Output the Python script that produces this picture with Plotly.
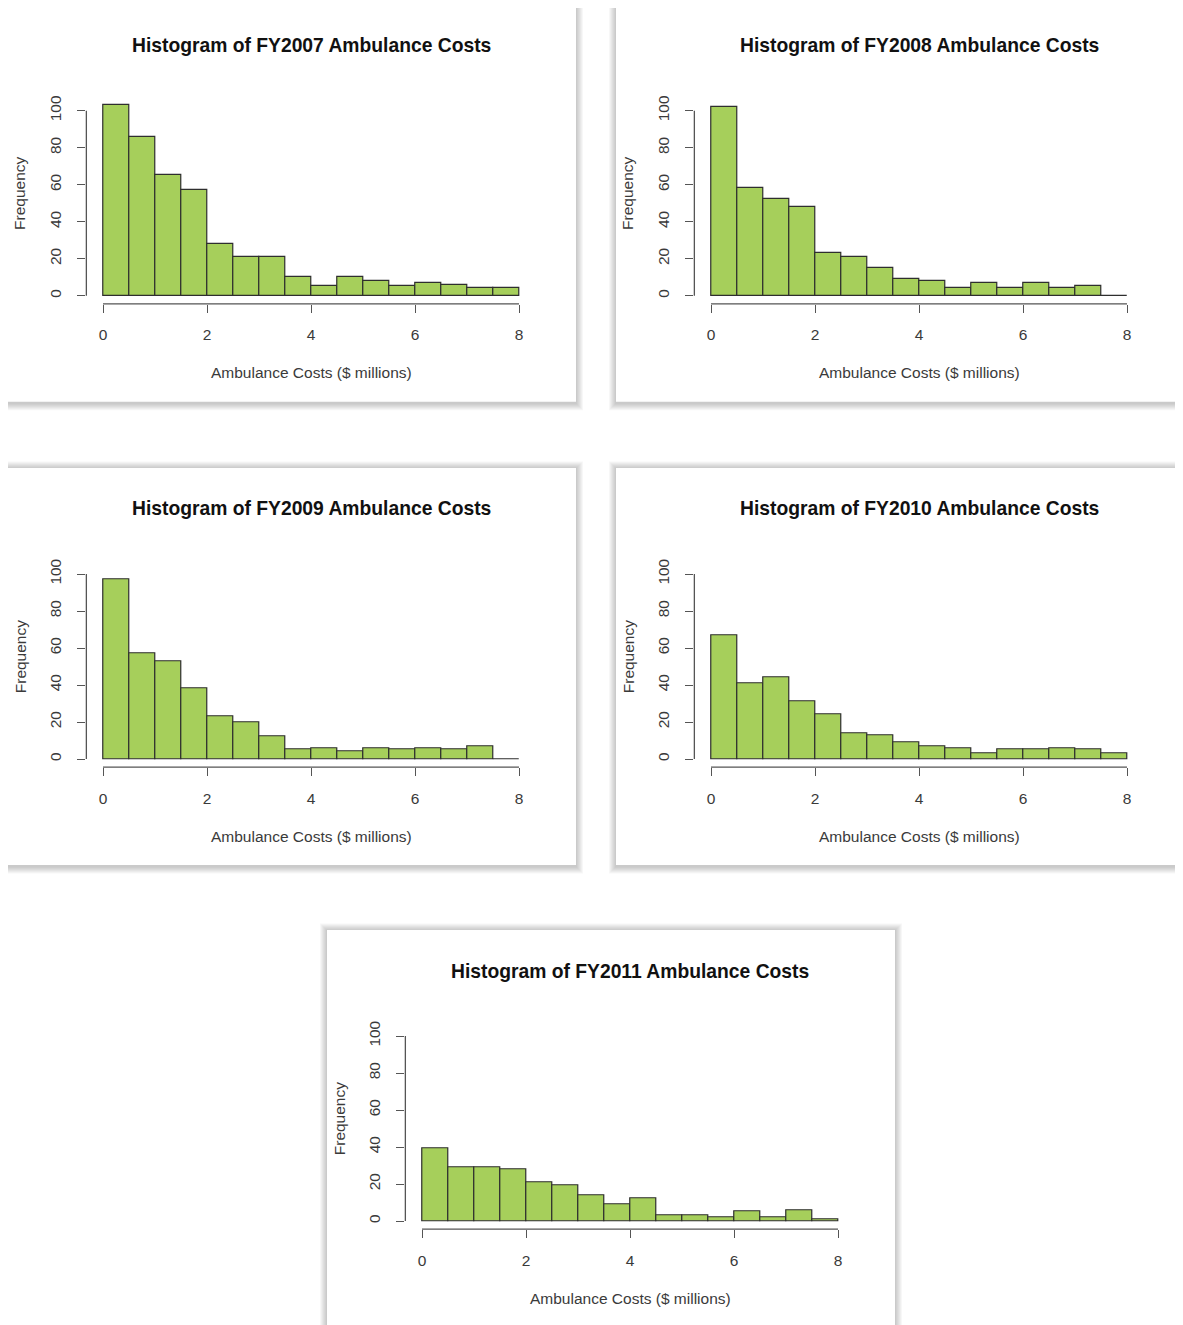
import plotly.graph_objects as go

# ---------------- data ----------------
bin_edges = [0.0, 0.5, 1.0, 1.5, 2.0, 2.5, 3.0, 3.5, 4.0, 4.5, 5.0, 5.5, 6.0, 6.5, 7.0, 7.5, 8.0]

years = ["FY2007", "FY2008", "FY2009", "FY2010", "FY2011"]

counts_fy2007 = [103, 86, 65, 57, 28, 21, 21, 10, 5, 10, 8, 5, 7, 6, 4, 4]
counts_fy2008 = [102, 58, 52, 48, 23, 21, 15, 9, 8, 4, 7, 4, 7, 4, 5, 0]
counts_fy2009 = [97, 57, 53, 38, 23, 20, 12, 5, 6, 4, 6, 5, 6, 5, 7, 0]
counts_fy2010 = [67, 41, 44, 31, 24, 14, 13, 9, 7, 6, 3, 5, 5, 6, 5, 3]
counts_fy2011 = [39, 29, 29, 28, 21, 19, 14, 9, 12, 3, 3, 2, 5, 2, 6, 1]

x_ticks = [0, 2, 4, 6, 8]
y_ticks = [0, 20, 40, 60, 80, 100]
x_label = "Ambulance Costs ($ millions)"
y_label = "Frequency"

all_counts = [counts_fy2007, counts_fy2008, counts_fy2009, counts_fy2010, counts_fy2011]

# ---------------- layout geometry (page pixels) ----------------
PAGE_OFFSET = 8            # default body margin of the html page
W, H = 1183 - PAGE_OFFSET, 1325 - PAGE_OFFSET
# page-pixel position of the data origin (x=0, count=0) in each panel
origins = [(103, 295.7), (711, 295.7), (103, 759.0), (711, 759.0), (422, 1221.0)]
PX_PER_X = 52.0      # pixels per $ million
PX_PER_Y = 1.85      # pixels per count
x_range = [-0.32, 8.32]
y_range = [-4.4, 114.4]

FONT = "Liberation Sans, Arial, sans-serif"
LABEL_COLOR = "#3a3a3a"
AXIS_COLOR = "#555555"
BAR_FILL = "#A6CF5B"
BAR_EDGE = "#2e2e2e"


def fx(px):
    return (px - PAGE_OFFSET) / W


def fy(py):
    return 1 - (py - PAGE_OFFSET) / H


fig = go.Figure()
shapes = []
annotations = []
layout_axes = {}

centers = [(a + b) / 2 for a, b in zip(bin_edges[:-1], bin_edges[1:])]
widths = [b - a for a, b in zip(bin_edges[:-1], bin_edges[1:])]

# cards + shadows first (drawn below everything)
card_rects = []
for ox, oy in origins:
    card_rects.append((ox - 95, oy - 291, ox + 473, oy + 106))

for (x0, y0, x1, y1) in card_rects:
    for k in range(7, 0, -1):
        shapes.append(dict(type="rect", xref="paper", yref="paper", layer="below",
                           x0=fx(x0 - k), x1=fx(x1 + k), y0=fy(y1 + k + 1.5), y1=fy(y0 - k + 0.5),
                           fillcolor="rgba(0,0,0,0.032)", line=dict(width=0)))
for (x0, y0, x1, y1) in card_rects:
    shapes.append(dict(type="rect", xref="paper", yref="paper", layer="below",
                       x0=fx(x0), x1=fx(x1), y0=fy(y1), y1=fy(y0),
                       fillcolor="white", line=dict(width=0)))

for i, (year, counts) in enumerate(zip(years, all_counts)):
    n = i + 1
    sfx = "" if n == 1 else str(n)
    ox, oy = origins[i]
    xd0 = ox + x_range[0] * PX_PER_X
    xd1 = ox + x_range[1] * PX_PER_X
    yd_bottom = oy - y_range[0] * PX_PER_Y
    yd_top = oy - y_range[1] * PX_PER_Y

    fig.add_trace(go.Bar(
        x=centers, y=counts, width=widths,
        xaxis="x" + sfx, yaxis="y" + sfx,
        marker=dict(color=BAR_FILL, line=dict(color=BAR_EDGE, width=1.2)),
        showlegend=False, hoverinfo="x+y",
    ))

    layout_axes["xaxis" + sfx] = dict(
        domain=[fx(xd0), fx(xd1)], range=x_range, anchor="y" + sfx,
        showgrid=False, zeroline=False, showline=False,
        tickmode="array", tickvals=x_ticks, ticktext=[str(v) for v in x_ticks],
        ticks="outside", ticklen=8, tickwidth=1.3, tickcolor=AXIS_COLOR,
        ticklabelstandoff=9,
        tickfont=dict(family=FONT, size=15.5, color=LABEL_COLOR),
        fixedrange=True,
    )
    layout_axes["yaxis" + sfx] = dict(
        domain=[fy(yd_bottom), fy(yd_top)], range=y_range, anchor="x" + sfx,
        showgrid=False, zeroline=False, showline=False,
        tickmode="array", tickvals=y_ticks, ticktext=[str(v) for v in y_ticks],
        ticks="outside", ticklen=8, tickwidth=1.3, tickcolor=AXIS_COLOR,
        tickangle=-90, ticklabelstandoff=10,
        tickfont=dict(family=FONT, size=15.5, color=LABEL_COLOR),
        fixedrange=True,
    )

    # R-style axis lines spanning only the first..last tick
    shapes.append(dict(type="line", xref="x" + sfx, yref="y" + sfx + " domain",
                       x0=x_ticks[0], x1=x_ticks[-1], y0=0, y1=0,
                       line=dict(color=AXIS_COLOR, width=1.3)))
    shapes.append(dict(type="line", xref="x" + sfx + " domain", yref="y" + sfx,
                       x0=0, x1=0, y0=y_ticks[0], y1=y_ticks[-1],
                       line=dict(color=AXIS_COLOR, width=1.3)))

    cx = ox + 4 * PX_PER_X
    annotations.append(dict(text="<b>Histogram of %s Ambulance Costs</b>" % year,
                            xref="paper", yref="paper", x=fx(cx), y=fy(oy - 250),
                            xanchor="center", yanchor="middle", showarrow=False,
                            font=dict(family=FONT, size=19.3, color="#111111")))
    annotations.append(dict(text=x_label, xref="paper", yref="paper",
                            x=fx(cx), y=fy(oy + 77), xanchor="center", yanchor="middle",
                            showarrow=False, font=dict(family=FONT, size=15.5, color=LABEL_COLOR)))
    annotations.append(dict(text=y_label, xref="paper", yref="paper",
                            x=fx(ox - 83), y=fy((yd_bottom + yd_top) / 2),
                            xanchor="center", yanchor="middle", textangle=-90,
                            showarrow=False, font=dict(family=FONT, size=15.5, color=LABEL_COLOR)))

fig.update_layout(
    width=W, height=H,
    margin=dict(l=0, r=0, t=0, b=0),
    paper_bgcolor="white", plot_bgcolor="rgba(0,0,0,0)",
    bargap=0, shapes=shapes, annotations=annotations,
    **layout_axes,
)

fig.write_html("out.html")
